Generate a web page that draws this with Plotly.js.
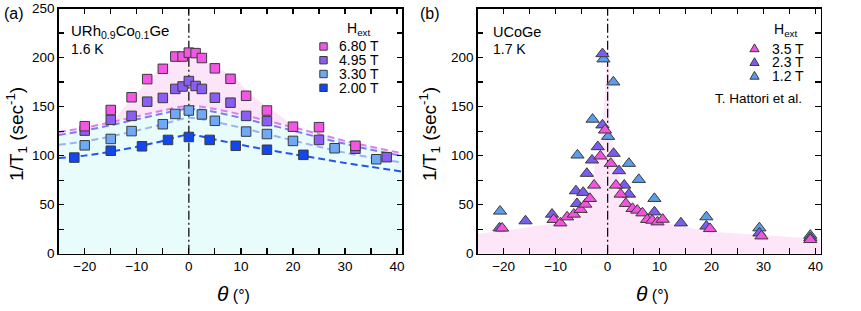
<!DOCTYPE html>
<html><head><meta charset="utf-8">
<script src="https://cdn.plot.ly/plotly-3.0.1.min.js"></script>
<style>html,body{margin:0;padding:0;background:#fff}#chart{width:861px;height:311px}</style>
</head><body><div id="chart"></div>
<script>
// ---------- Panel (a) URh0.9Co0.1Ge, 1.6 K ----------
const thetaA68 = [-20, -15, -11, -8, -5, -2.6, -1.2, 0, 1.3, 2.5, 5, 8, 11, 15, 20, 25, 32];
const rateA68  = [130, 146.5, 159.5, 178, 188.5, 201, 201, 205, 204.5, 199.5, 189, 178.3, 161, 146, 129.5, 129, 110];
const thetaA495 = [-20, -15, -11, -8, -5, -2.6, -1.2, 0, 1.3, 2.5, 5, 8, 11, 15, 25, 32, 38];
const rateA495  = [125.5, 136.5, 140.5, 155, 158.8, 168, 170.5, 176, 171, 168, 159, 154, 140.5, 135.2, 116, 107, 98.4];
const thetaA330 = [-20, -15, -11, -5, -2.6, 0, 2.5, 5, 11, 15, 20, 28, 36];
const rateA330  = [110.5, 117, 125, 132, 142.5, 146, 142, 135.5, 124.5, 122, 115, 107.5, 96.3];
const thetaA200 = [-22, -15, -9, -4, 0, 4, 9, 15, 22];
const rateA200  = [98, 105, 109.5, 116, 119, 116, 110, 106, 100.8];

// dashed guide curves
const fitTheta = [-25, -20, -15, -10, -5, -2, 0, 2, 5, 10, 15, 20, 25, 30, 35, 41];
const fit68  = [124, 128.5, 134, 140, 146, 149.5, 150.5, 150, 147.5, 142, 135.5, 129, 122, 115, 109, 102.4];
const fit495 = [121, 125.5, 131, 137, 143, 146.5, 147.5, 147, 144.5, 138.5, 132, 125.5, 118.5, 112, 106, 99.7];
const fit330 = [111, 114.5, 119.5, 125.5, 132, 136.5, 138.5, 137.5, 134.5, 128.5, 122, 115.5, 109, 103, 98, 92.9];
const fit200 = [97.5, 100, 104, 109, 115, 119.5, 121.5, 120, 116.5, 111, 106, 101.5, 97, 92.5, 88.5, 83.7];

// pink shaded envelope above the 6.80 T curve
const envTheta = [-25, -20, -15, -12, -8, -6, -3, 0, 3, 6, 9, 12, 15, 18, 20, 25, 30, 35, 41];
const envRate  = [124, 128.5, 134, 152, 175, 186, 197, 202, 197, 188, 178, 162, 150, 139, 130, 122, 115, 109, 102.4];

// ---------- Panel (b) UCoGe, 1.7 K (T. Hattori et al.) ----------
const thetaB35 = [-20.3, -10.4, -9.1, -7.8, -6.5, -5.2, -4.3, -3.4, -2.6, -1.4, -0.5, 0.6, 1.6, 2.5, 3.5, 4.8, 5.7, 6.7, 7.6, 8.6, 9.6, 10.6, 19.7, 29.6, 39];
const rateB35  = [26, 34.8, 31.3, 37.4, 40.2, 45, 50.4, 56.2, 69.8, 99.5, 126, 92, 69.8, 60.6, 51.1, 46, 44.3, 41.5, 34.8, 34, 32.3, 35, 25.5, 18, 14.3];
const thetaB23 = [-20.8, -15.8, -10.7, -6.1, -5.9, -4.7, -4.0, -3.0, -1.9, -1.0, -1.0, 1.15, 2.2, 3.2, 4.1, 9.0, 14.1, 19, 29.2, 39];
const rateB23  = [26.2, 33.4, 40.2, 64, 51, 62.4, 81.8, 95.4, 109, 131.2, 203.8, 102.2, 84.5, 69.8, 60.6, 42.5, 31.3, 28, 21, 16.3];
const thetaB12 = [-20.7, -5.8, -2.9, -0.8, 0.1, 1.1, 4.1, 6.0, 9.0, 19, 29.2, 39];
const rateB12  = [43.3, 100.5, 137, 198.5, 119.5, 175, 92, 75.6, 56.2, 37.5, 26.2, 18.7];

const bandTheta = [-25, -20, -15, -10, -7.6, -5, -4, -3, -2, -1.3, -0.7, -0.3, 0, 0.3, 0.4, 0.7, 1.2, 2, 3, 4, 5, 7, 10, 14, 17, 20, 25, 30, 35, 41];
const bandRate  = [20, 23.5, 27, 31, 33, 46, 55, 75, 98, 118, 150, 190, 197, 185, 135, 115, 100, 80, 65, 55, 49, 41, 33, 28, 25, 22.5, 20.5, 18.5, 17, 15];

const vlineTheta = [0, 0];
const vlineRate = [0, 250];

const labelsA = ['6.80 T', '4.95 T', '3.30 T', '2.00 T'];
const labelsB = ['3.5 T', '2.3 T', '1.2 T'];

// ---------- styles ----------
const FONT = 'Liberation Sans, Arial, Helvetica, sans-serif';
const colA = ['#f356e4', '#8a5ef2', '#6fa8f4', '#1247ee'];
const dashCol = ['#e07cf0', '#8878f0', '#a2b0f2', '#2155ee'];
const colB = ['#f453de', '#7b5cf0', '#5b9cec'];
const edge = {color: '#3a3a3a', width: 1};

function sq(x, y, c, name) {
  return {x, y, type: 'scatter', mode: 'markers', name, showlegend: false,
    marker: {symbol: 'square', size: 9.5, color: c, line: edge}, xaxis: 'x', yaxis: 'y'};
}
function tri(x, y, c, name) {
  return {x, y, type: 'scatter', mode: 'markers', name, showlegend: false,
    marker: {symbol: 'triangle-up', size: 11.5, color: c, line: edge}, xaxis: 'x2', yaxis: 'y2'};
}
function dashed(y, c) {
  return {x: fitTheta, y, type: 'scatter', mode: 'lines', showlegend: false, hoverinfo: 'skip',
    line: {color: c, width: 2, dash: '7px,4px', shape: 'spline', smoothing: 0.8}, xaxis: 'x', yaxis: 'y'};
}

const traces = [
  {x: fitTheta, y: fit68, type: 'scatter', mode: 'lines', fill: 'tozeroy', fillcolor: '#e9fcfc',
   line: {width: 0, shape: 'spline', smoothing: 0.8}, showlegend: false, hoverinfo: 'skip', xaxis: 'x', yaxis: 'y'},
  {x: envTheta, y: envRate, type: 'scatter', mode: 'lines', fill: 'tonexty', fillcolor: '#fce5f8',
   line: {width: 0, shape: 'spline', smoothing: 0.6}, showlegend: false, hoverinfo: 'skip', xaxis: 'x', yaxis: 'y'},
  {x: vlineTheta, y: vlineRate, type: 'scatter', mode: 'lines', showlegend: false, hoverinfo: 'skip',
   line: {color: '#111', width: 1.3, dash: '9px,3px,2px,3px'}, xaxis: 'x', yaxis: 'y'},
  dashed(fit68, dashCol[0]), dashed(fit495, dashCol[1]), dashed(fit330, dashCol[2]), dashed(fit200, dashCol[3]),
  sq(thetaA200, rateA200, colA[3], labelsA[3]),
  sq(thetaA330, rateA330, colA[2], labelsA[2]),
  sq(thetaA495, rateA495, colA[1], labelsA[1]),
  sq(thetaA68, rateA68, colA[0], labelsA[0]),
  {x: bandTheta, y: bandRate, type: 'scatter', mode: 'lines', fill: 'tozeroy', fillcolor: '#fde6f8',
   line: {width: 0}, showlegend: false, hoverinfo: 'skip', xaxis: 'x2', yaxis: 'y2'},
  {x: vlineTheta, y: vlineRate, type: 'scatter', mode: 'lines', showlegend: false, hoverinfo: 'skip',
   line: {color: '#111', width: 1.3, dash: '9px,3px,2px,3px'}, xaxis: 'x2', yaxis: 'y2'},
  tri(thetaB12, rateB12, colB[2], labelsB[2]),
  tri(thetaB23, rateB23, colB[1], labelsB[1]),
  tri(thetaB35, rateB35, colB[0], labelsB[0])
];

const W = 861, H = 311;
const px = v => v / W, py = v => 1 - v / H;

function xax(domain) {
  return {domain, range: [-25, 41], dtick: 10, tick0: 0, ticks: 'inside', ticklen: 5.5, tickwidth: 1.2,
    tickcolor: '#000', showline: true, linecolor: '#000', linewidth: 1.5, mirror: 'ticks',
    showgrid: false, zeroline: false, tickfont: {family: FONT, size: 13.5, color: '#000'},
    minor: {dtick: 5, tick0: 0, ticks: 'inside', ticklen: 5.5, tickwidth: 1.2, tickcolor: '#000', showgrid: false}};
}
function yax(domain, anchor, labels) {
  return {domain, anchor, range: [0, 250], tickvals: [0, 50, 100, 150, 200, 250], ticktext: labels,
    ticks: 'inside', ticklen: 5.5, tickwidth: 1.2, tickcolor: '#000', showline: true, linecolor: '#000',
    linewidth: 1.5, mirror: 'ticks', showgrid: false, zeroline: false,
    tickfont: {family: FONT, size: 13.5, color: '#000'},
    minor: {dtick: 25, tick0: 0, ticks: 'inside', ticklen: 5.5, tickwidth: 1.2, tickcolor: '#000', showgrid: false}};
}

const yDom = [(H - 253.7) / H, (H - 8.5) / H];
const ann = (x, y, text, size, extra) => Object.assign({xref: 'paper', yref: 'paper', x: px(x), y: py(y),
  text, showarrow: false, xanchor: 'left', yanchor: 'middle', font: {family: FONT, size, color: '#000'}}, extra || {});

const annotations = [
  ann(2, 13, '(a)', 16),
  ann(418, 13, '(b)', 16),
  ann(69, 31, 'URh<sub>0.9</sub>Co<sub>0.1</sub>Ge', 15),
  ann(69, 48.5, '1.6 K', 14),
  ann(345, 29, 'H<sub>ext</sub>', 14),
  ann(491, 32, 'UCoGe', 14.5),
  ann(491, 49.5, '1.7 K', 14),
  ann(772, 30, 'H<sub>ext</sub>', 14),
  ann(713, 98.5, 'T. Hattori et al.', 13.5),
  ann(16, 134, '1/T<sub>1</sub> (sec<sup>-1</sup>)', 19, {xanchor: 'center', textangle: -90}),
  ann(429, 134, '1/T<sub>1</sub> (sec<sup>-1</sup>)', 19, {xanchor: 'center', textangle: -90}),
  ann(233, 293, '<i>θ</i><span style="font-size:16px"> (°)</span>', 21, {xanchor: 'center'}),
  ann(652, 293, '<i>θ</i><span style="font-size:16px"> (°)</span>', 21, {xanchor: 'center'})
];
const legA = [46.5, 60.2, 74, 87.8];
labelsA.forEach((t, i) => annotations.push(ann(337, legA[i], t, 14)));
const legB = [48.5, 62.3, 76];
labelsB.forEach((t, i) => annotations.push(ann(770, legB[i], t, 14)));

const shapes = [];
legA.forEach((yy, i) => shapes.push({type: 'rect', xref: 'paper', yref: 'paper', xsizemode: 'pixel', ysizemode: 'pixel',
  xanchor: px(323.5), yanchor: py(yy), x0: -3.7, x1: 3.7, y0: -3.7, y1: 3.7,
  fillcolor: colA[i], line: {color: '#3a3a3a', width: 1}}));
legB.forEach((yy, i) => shapes.push({type: 'path', xref: 'paper', yref: 'paper', xsizemode: 'pixel', ysizemode: 'pixel',
  xanchor: px(754.5), yanchor: py(yy), path: 'M-4.6,-3.2 L4.6,-3.2 L0,4.6 Z',
  fillcolor: colB[i], line: {color: '#3a3a3a', width: 1}}));

const layout = {
  width: W, height: H, margin: {l: 0, r: 0, t: 0, b: 0}, paper_bgcolor: '#fff', plot_bgcolor: '#fff',
  showlegend: false, font: {family: FONT, color: '#000'},
  xaxis: Object.assign(xax([58.7 / W, 402.3 / W]), {anchor: 'y'}),
  yaxis: yax(yDom, 'x', ['0', '50', '100', '150', '200', '250']),
  xaxis2: Object.assign(xax([477.7 / W, 820.7 / W]), {anchor: 'y2'}),
  yaxis2: yax(yDom, 'x2', ['0', '50', '100', '150', '200', '']),
  annotations, shapes
};
Plotly.newPlot('chart', traces, layout, {staticPlot: true, displayModeBar: false});
</script></body></html>
